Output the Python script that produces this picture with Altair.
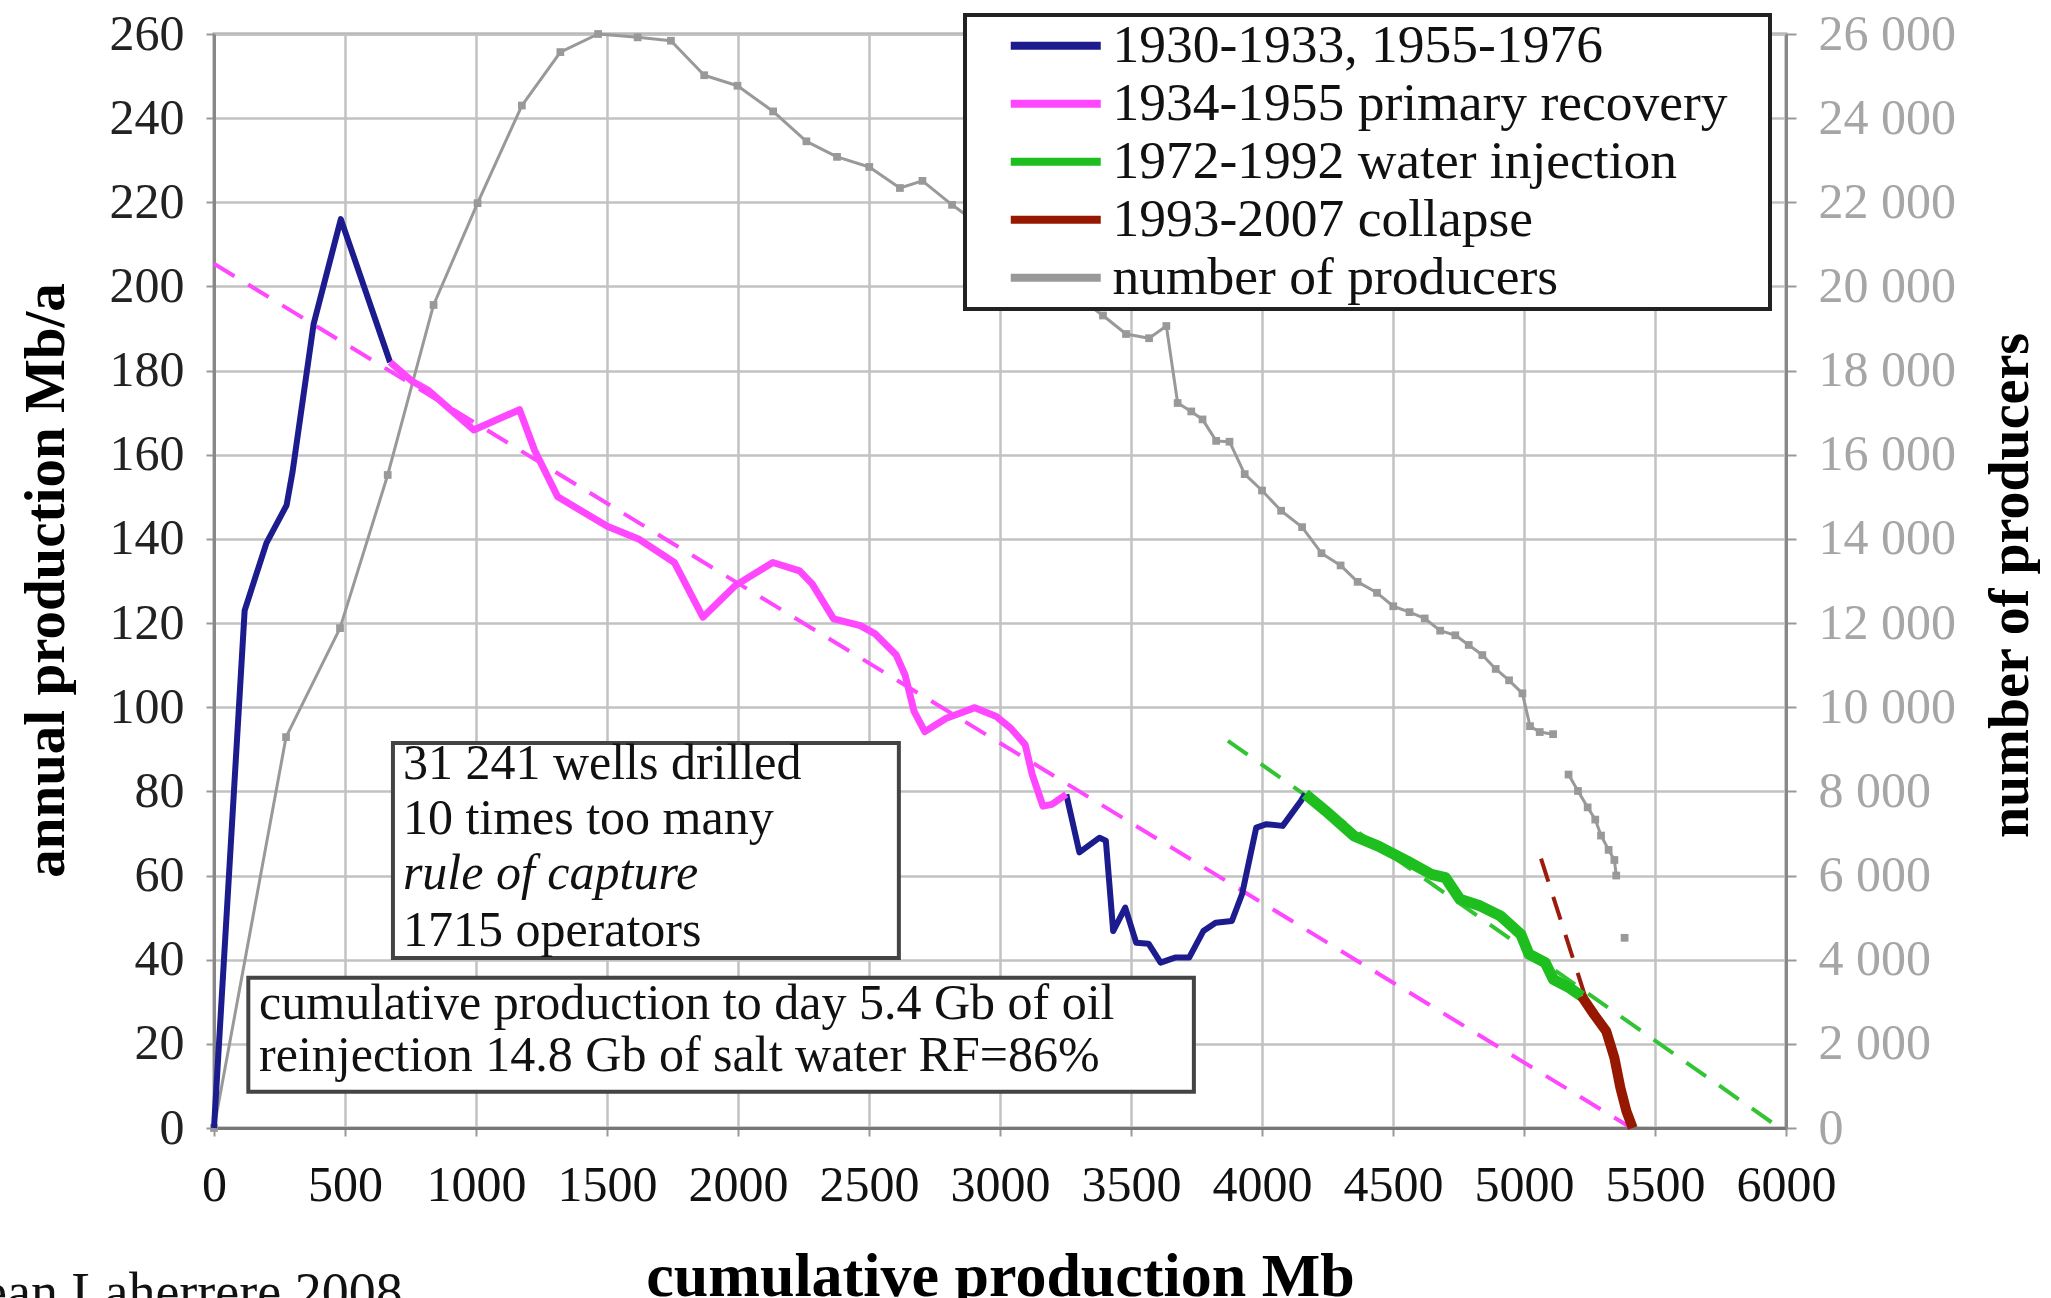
import altair as alt
import pandas as pd

SERIF = "Liberation Serif"

# ---------------- data ----------------
SERIES = ["1930-1933, 1955-1976", "1934-1955 primary recovery",
          "1972-1992 water injection", "1993-2007 collapse", "number of producers"]
COLORS = ["#1c1c8e", "#ff47ff", "#1ebe1e", "#961800", "#999999"]

blue1_cum = [0, 117, 200, 277, 300, 380, 484, 672]
blue1_prod = [0, 123, 139, 148, 156, 191, 216, 182]

pink_cum = [672, 758, 816, 991, 1166, 1224, 1312, 1501, 1620, 1757, 1866, 1989, 2133, 2235,
            2283, 2365, 2467, 2522, 2604, 2638, 2672, 2713, 2795, 2904, 2986, 3041, 3096,
            3123, 3164, 3198, 3253]
pink_prod = [182, 177.4, 175.4, 165.9, 170.7, 161, 150, 143, 140, 134.4, 121.4, 128.9, 134.4,
             132.4, 129.3, 121, 119.4, 117.5, 112.4, 107.6, 99, 94.2, 97.4, 99.9, 97.8, 95,
             91.1, 84, 76.5, 76.9, 79.3]

blue2_cum = [3253, 3303, 3380, 3404, 3432, 3478, 3520, 3567, 3613, 3668, 3722, 3776, 3823,
             3885, 3924, 3978, 4017, 4079, 4149, 4165]
blue2_prod = [79.3, 65.5, 69, 68.3, 46.8, 52.4, 44, 43.8, 39.3, 40.5, 40.5, 46.8, 48.8, 49.2,
              55.6, 71.4, 72.2, 71.8, 77.8, 79.4]

green_cum = [4165, 4242, 4351, 4444, 4553, 4646, 4700, 4755, 4832, 4910, 4988, 5019, 5081,
             5112, 5174, 5220]
green_prod = [79.4, 75.4, 69.4, 67, 63.5, 60.3, 59.5, 54.4, 52.8, 50.4, 46, 41.3, 39.3, 35.3,
              33.3, 31.3]

red_cum = [5220, 5267, 5314, 5345, 5368, 5391, 5415]
red_prod = [31.3, 27, 23, 16.7, 9.5, 4, 0]

producers_cum = [0, 275, 481, 663, 838, 1006, 1175, 1322, 1466, 1617,
                 1744, 1871, 1998, 2134, 2261, 2378, 2501, 2618, 2704, 2817,
                 3393, 3481, 3569, 3635, 3678, 3730, 3773, 3825, 3876, 3934,
                 4000, 4073, 4153, 4227, 4300, 4365, 4439, 4501, 4563, 4621,
                 4680, 4738, 4789, 4841, 4892, 4943, 4994, 5023, 5060, 5111,
                 5170, 5206, 5243, 5272, 5294, 5323, 5345, 5352,
                 5384]
producers = [0, 9290, 11880, 15520, 19560, 21980, 24300, 25570, 26000, 25920,
             25840, 25020, 24770, 24160, 23450, 23080, 22840, 22340, 22510, 21940,
             19310, 18870, 18770, 19060, 17230, 17030, 16840, 16330, 16310, 15540,
             15150, 14670, 14280, 13660, 13370, 12980, 12720, 12400, 12260, 12110,
             11820, 11710, 11480, 11240, 10910, 10640, 10330, 9550, 9410, 9360,
             8400, 8010, 7620, 7330, 6950, 6610, 6370, 6000,
             4520]
producers_seg = [0] * 50 + [1] * 8 + [2]

# dashed trend lines (end points)
pink_trend_cum = [0, 5410]
pink_trend_prod = [205.4, 0]
green_trend_cum = [3870, 5976]
green_trend_prod = [92, 0]
red_trend_cum = [5065, 5240]
red_trend_prod = [64, 30]

# annotation boxes (data coordinates)
box_x1 = [683, 131]
box_x2 = [2614, 3740]
box_y1 = [40.4, 8.6]
box_y2 = [91.5, 35.7]

note_text = ["31 241 wells drilled", "10 times too many", "1715 operators",
             "cumulative production to day 5.4 Gb of oil",
             "reinjection 14.8 Gb of salt water RF=86%"]
note_x = [721, 721, 721, 172, 172]
note_y = [86.5, 73.5, 46.8, 29.4, 17.0]
italic_text = ["rule of capture"]
italic_x = [721]
italic_y = [60.3]

credit = ["Jean Laherrere 2008"]

# ---------------- frames ----------------
def line_df(cum, prod, series, seg=0):
    return pd.DataFrame({"cum": cum, "prod": prod, "series": series, "seg": seg})

blue_df = pd.concat([line_df(blue1_cum, blue1_prod, SERIES[0], 0),
                     line_df(blue2_cum, blue2_prod, SERIES[0], 1)])
pink_df = line_df(pink_cum, pink_prod, SERIES[1])
green_df = line_df(green_cum, green_prod, SERIES[2])
red_df = line_df(red_cum, red_prod, SERIES[3])
gray_df = pd.DataFrame({"cum": producers_cum, "producers": producers,
                        "series": SERIES[4], "seg": producers_seg})

# ---------------- encodings ----------------
x_axis = alt.Axis(values=list(range(0, 6001, 500)), title="cumulative production Mb",
                  format="d",
                  labelFont=SERIF, labelFontSize=50, labelColor="#111", labelPadding=24,
                  tickSize=8, tickColor="#999", tickWidth=2,
                  domainColor="#777", domainWidth=3,
                  grid=True, gridColor="#c2c2c2", gridWidth=2.5,
                  labelFlush=False, labelOverlap=False,
                  titleFont=SERIF, titleFontSize=62, titleFontWeight="bold", titleColor="#000",
                  titleX=786, titleY=167, titleBaseline="alphabetic", titleAlign="center")
left_axis = alt.Axis(values=list(range(0, 261, 20)), title="annual production Mb/a",
                     orient="left",
                     labelFont=SERIF, labelFontSize=50, labelColor="#222", labelPadding=22,
                     tickSize=8, tickColor="#999", tickWidth=2,
                     domainColor="#888", domainWidth=3,
                     grid=True, gridColor="#c2c2c2", gridWidth=2.5,
                     labelOverlap=False, labelFlush=False,
                     titleFont=SERIF, titleFontSize=57, titleFontWeight="bold", titleColor="#000",
                     titleAngle=270, titleX=-168, titleY=546, titleBaseline="middle",
                     titleAlign="center")
right_axis = alt.Axis(values=list(range(0, 26001, 2000)), title="number of producers",
                      orient="right",
                      labelExpr="replace(format(datum.value, ','), ',', ' ')",
                      labelFont=SERIF, labelFontSize=50, labelColor="#a6a6a6", labelPadding=22,
                      tickSize=10, tickColor="#999", tickWidth=2,
                      domainColor="#888", domainWidth=3, grid=False,
                      labelOverlap=False, labelFlush=False,
                      titleFont=SERIF, titleFontSize=56, titleFontWeight="bold", titleColor="#000",
                      titleAngle=270, titleX=224, titleY=551, titleBaseline="middle",
                      titleAlign="center")

X = alt.X("cum:Q", scale=alt.Scale(domain=[0, 6000], nice=False, zero=False), axis=x_axis)
Y = alt.Y("prod:Q", scale=alt.Scale(domain=[0, 260], nice=False), axis=left_axis)

legend = alt.Legend(
    orient="none", legendX=751, legendY=-19,
    title="\u00a0", titleOrient="right", titlePadding=38, titleFontSize=10,
    fillColor="white", strokeColor="#222", padding=4,
    labelFont=SERIF, labelFontSize=53.5, labelColor="#111", labelLimit=1000,
    symbolType="M-3,0H3", symbolSize=900, symbolStrokeWidth=8,
    symbolOffset=60, labelOffset=30, rowPadding=3,
)
C = alt.Color("series:N", scale=alt.Scale(domain=SERIES, range=COLORS), legend=legend)

# ---------------- layers ----------------
gray = alt.Chart(gray_df).mark_line(
    strokeWidth=3, strokeJoin="round",
    point=alt.OverlayMarkDef(shape="square", size=60, filled=True)
).encode(
    x=X,
    y=alt.Y("producers:Q", scale=alt.Scale(domain=[0, 26000], nice=False), axis=right_axis),
    color=C, detail="seg:N", order="cum:Q")

def trend(cum, prod, color):
    return alt.Chart(pd.DataFrame({"cum": cum, "prod": prod})).mark_line(
        color=color, strokeWidth=4, strokeDash=[24, 16]).encode(x=X, y=Y)

trends = [trend(pink_trend_cum, pink_trend_prod, "#ff47ff"),
          trend(green_trend_cum, green_trend_prod, "#33c433"),
          trend(red_trend_cum, red_trend_prod, "#9b1c0c")]

def series_line(df, width):
    return alt.Chart(df).mark_line(strokeWidth=width, strokeJoin="round").encode(
        x=X, y=Y, color=C, detail="seg:N", order="cum:Q")

lines = [series_line(blue_df, 6), series_line(pink_df, 7),
         series_line(green_df, 11), series_line(red_df, 10)]

boxes = alt.Chart(pd.DataFrame({"cum": box_x1, "cum2": box_x2, "prod": box_y1, "prod2": box_y2})
                  ).mark_rect(fill="white", stroke="#444", strokeWidth=4).encode(
    x=X, x2="cum2:Q", y=Y, y2="prod2:Q")

notes = alt.Chart(pd.DataFrame({"cum": note_x, "prod": note_y, "t": note_text})).mark_text(
    align="left", baseline="middle", font=SERIF, fontSize=50, color="#111").encode(
    x=X, y=Y, text="t:N")
notes_it = alt.Chart(pd.DataFrame({"cum": italic_x, "prod": italic_y, "t": italic_text})).mark_text(
    align="left", baseline="middle", font=SERIF, fontSize=50, fontStyle="italic",
    color="#111").encode(x=X, y=Y, text="t:N")

credit_layer = alt.Chart(pd.DataFrame({"t": credit})).mark_text(
    align="left", baseline="alphabetic", font=SERIF, fontSize=54, color="#111").encode(
    text="t:N", x=alt.value(-252), y=alt.value(1276))

left = alt.layer(*trends, *lines, boxes, notes, notes_it, credit_layer)

chart = alt.layer(gray, left).resolve_scale(y="independent").properties(
    width=1572, height=1094,
    padding={"left": 214, "top": 34, "right": 265, "bottom": 170},
    autosize=alt.AutoSizeParams(type="none"),
    background="white",
).configure_view(stroke="#999", strokeWidth=3)

try:
    _c = chart.configure_legend(strokeWidth=4)
    _c.to_dict()
    chart = _c
except Exception:
    pass

chart.save("out.html", embed_options={"renderer": "svg", "actions": False})
